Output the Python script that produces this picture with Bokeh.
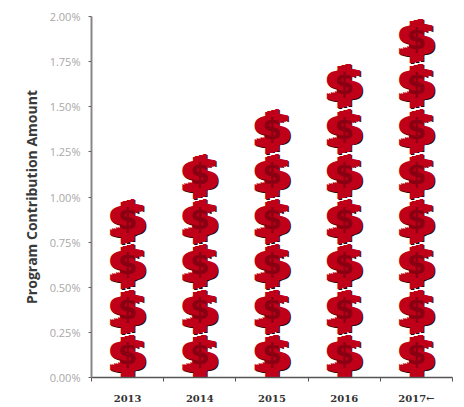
from bokeh.plotting import figure
from bokeh.models import ColumnDataSource, FixedTicker, PrintfTickFormatter, Range1d
from bokeh.core.properties import value
from bokeh.embed import file_html
from bokeh.resources import INLINE

years = ["2013", "2014", "2015", "2016", "2017\u2190"]
contribution = [1.00, 1.25, 1.50, 1.75, 2.00]
unit = 0.25
y_ticks = [0, 0.25, 0.5, 0.75, 1.0, 1.25, 1.5, 1.75, 2.0]

xs, ys = [], []
for i, v in enumerate(contribution):
    for k in range(int(round(v / unit))):
        xs.append(i + 0.5)
        ys.append((k + 0.5) * unit)
src = ColumnDataSource(dict(x=xs, y=ys, t=["$"] * len(xs)))

p = figure(width=456, height=406, output_backend="svg", toolbar_location=None,
           x_range=Range1d(0, 5), y_range=Range1d(0, 2),
           min_border_left=91, min_border_right=4, min_border_top=16, min_border_bottom=28)
p.grid.visible = False
p.outline_line_color = None
p.background_fill_color = "white"

font = value("DejaVu Sans")
layers = [("#2a0a0a", d + 1, 1 - d * 0.25, "46px") for d in (-5, 0, 5)]
layers += [("#c00018", d, -d * 0.25, "46px") for d in (-5, -3, -1, 1, 3, 5)]
layers += [("#8a0012", 0, 0, "28px")]
for col, dx, dy, size in layers:
    p.text("x", "y", text="t", source=src, text_font=font, text_font_size=size,
           text_font_style="bold", text_color=col, text_align="center",
           text_baseline="middle", x_offset=dx, y_offset=dy)

xa = p.xaxis[0]
xa.ticker = FixedTicker(ticks=[i + 0.5 for i in range(5)], minor_ticks=list(range(6)))
xa.major_label_overrides = {i + 0.5: y for i, y in enumerate(years)}
xa.major_tick_line_color = None
xa.major_tick_out = 0
xa.major_tick_in = 0
xa.minor_tick_out = 4
xa.minor_tick_in = 0
xa.minor_tick_line_color = "#555555"
xa.axis_line_color = "#555555"
xa.axis_line_width = 1.5
xa.major_label_text_font = "DejaVu Serif"
xa.major_label_text_font_style = "bold"
xa.major_label_text_font_size = "10px"
xa.major_label_text_color = "#333333"
xa.major_label_standoff = 11

ya = p.yaxis[0]
ya.ticker = FixedTicker(ticks=y_ticks, minor_ticks=[])
ya.formatter = PrintfTickFormatter(format="%.2f%%")
ya.major_tick_out = 3
ya.major_tick_in = 0
ya.major_tick_line_color = "#666666"
ya.axis_line_color = "#888888"
ya.axis_line_width = 2
ya.major_label_text_font = "Open Sans"
ya.major_label_text_font_size = "11px"
ya.major_label_text_color = "#a8a8a8"
ya.major_label_standoff = 8
ya.axis_label = "Program Contribution Amount"
ya.axis_label_text_font = "Open Sans"
ya.axis_label_text_font_style = "bold"
ya.axis_label_text_font_size = "14px"
ya.axis_label_text_color = "#3a3a3a"
ya.axis_label_standoff = 6

open("out.html", "w").write(file_html(p, INLINE))
